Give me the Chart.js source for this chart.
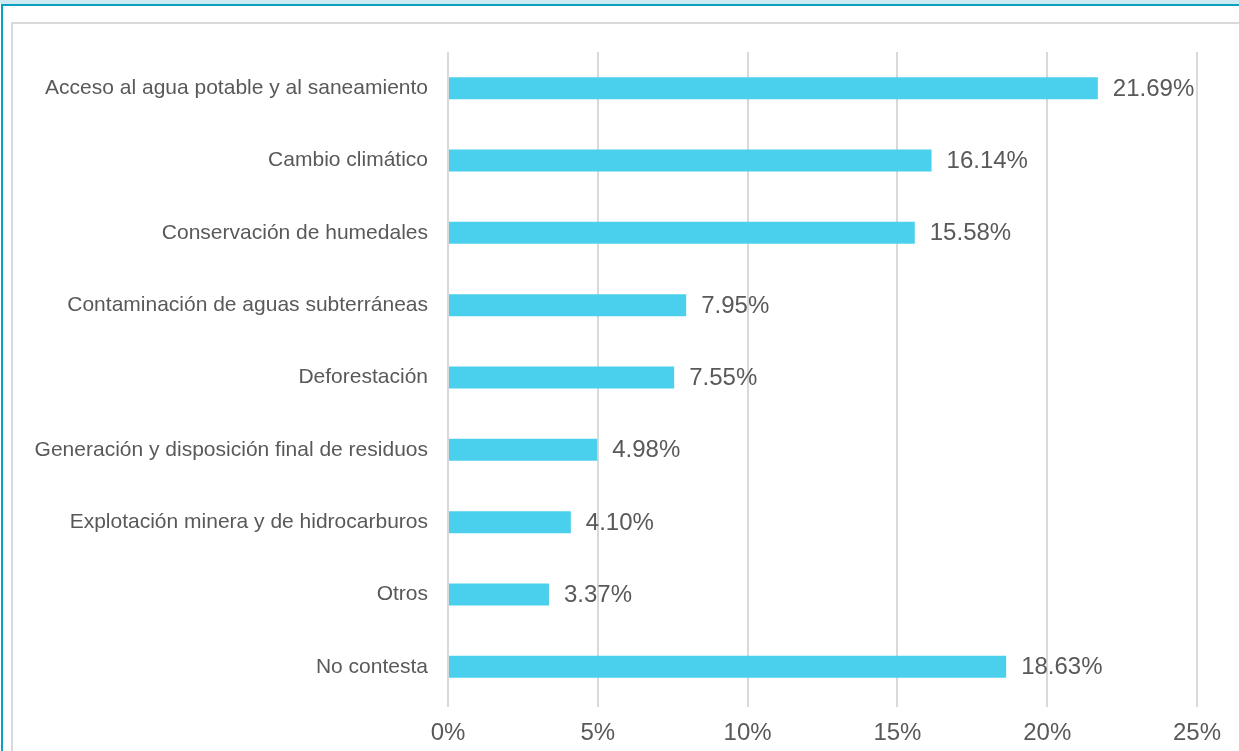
<!DOCTYPE html>
<html>
<head>
<meta charset="utf-8">
<script src="https://cdn.jsdelivr.net/npm/chart.js@4/dist/chart.umd.min.js"></script>
<style>
    html, body { margin: 0; padding: 0; background: #fff; overflow: hidden; }
    #wrap { position: relative; width: 1239px; height: 751px; }
    #topBand { position: absolute; left: 0; top: 0; width: 1239px; height: 4px; background: #cde9f1; }
    #topLine { position: absolute; left: 1px; top: 4px; width: 1238px; height: 2px; background: #0aa0c0; }
    #leftLine { position: absolute; left: 1px; top: 4px; width: 2px; height: 747px; background: #0aa0c0; }
    #inner { position: absolute; left: 11px; top: 22px; width: 1300px; height: 800px; border: 2px solid #d9d9d9; box-sizing: border-box; }
    #barChart { position: absolute; left: 0; top: 0; }
</style>
</head>
<body>
<div id="wrap">
    <div id="topBand"></div>
    <div id="topLine"></div>
    <div id="leftLine"></div>
    <div id="inner"></div>
    <canvas id="barChart" width="1239" height="751"></canvas>
</div>
<script>
    // Datos
    const categories = [
        'Acceso al agua potable y al saneamiento',
        'Cambio climático',
        'Conservación de humedales',
        'Contaminación de aguas subterráneas',
        'Deforestación',
        'Generación y disposición final de residuos',
        'Explotación minera y de hidrocarburos',
        'Otros',
        'No contesta'
    ];
    const percentages = [21.69, 16.14, 15.58, 7.95, 7.55, 4.98, 4.10, 3.37, 18.63];
    const xTicks = [0, 5, 10, 15, 20, 25];

    const textColor = '#595959';
    const fontFamily = '"Liberation Sans", Arial, sans-serif';

    // Etiquetas de valor al final de cada barra
    const valueLabels = {
        id: 'valueLabels',
        afterDatasetsDraw(chart) {
            const ctx = chart.ctx;
            const meta = chart.getDatasetMeta(0);
            ctx.save();
            ctx.font = '24px ' + fontFamily;
            ctx.fillStyle = textColor;
            ctx.textAlign = 'left';
            ctx.textBaseline = 'middle';
            meta.data.forEach(function(bar, i) {
                ctx.fillText(percentages[i].toFixed(2) + '%', bar.x + 15, bar.y + 1);
            });
            ctx.restore();
        }
    };

    new Chart(document.getElementById('barChart'), {
        type: 'bar',
        data: {
            labels: categories,
            datasets: [{
                data: percentages,
                backgroundColor: 'rgb(74, 207, 237)',
                borderWidth: 0,
                categoryPercentage: 1,
                barPercentage: 0.305
            }]
        },
        options: {
            indexAxis: 'y',
            responsive: false,
            animation: false,
            devicePixelRatio: 1,
            layout: {
                padding: { top: 52, right: 42, bottom: 0, left: 0 }
            },
            plugins: {
                legend: { display: false },
                tooltip: { enabled: false }
            },
            scales: {
                x: {
                    min: 0,
                    max: 25,
                    afterBuildTicks(scale) {
                        scale.ticks = xTicks.map(v => ({ value: v }));
                    },
                    afterFit(scale) {
                        scale.height = 48;
                    },
                    border: { display: false },
                    grid: {
                        color: '#d9d9d9',
                        lineWidth: 2,
                        tickLength: 4
                    },
                    ticks: {
                        padding: 12,
                        color: textColor,
                        font: { size: 24, family: fontFamily },
                        callback: v => v + '%'
                    }
                },
                y: {
                    afterFit(scale) {
                        scale.width = 448;
                    },
                    border: { display: false },
                    grid: { display: false },
                    ticks: {
                        padding: 12,
                        color: textColor,
                        font: { size: 21, family: fontFamily }
                    }
                }
            }
        },
        plugins: [valueLabels]
    });
</script>
</body>
</html>
